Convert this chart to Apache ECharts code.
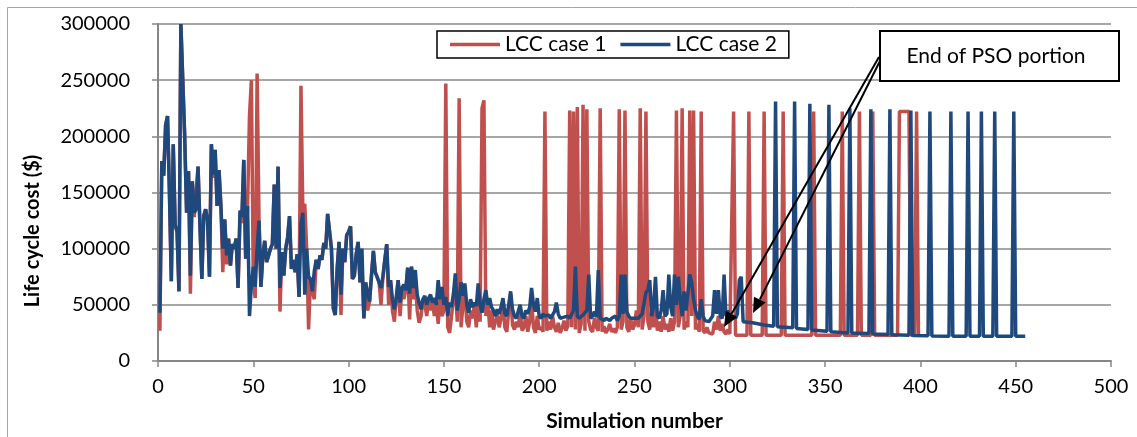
<!DOCTYPE html>
<html>
<head>
<meta charset="utf-8">
<script src="https://cdn.jsdelivr.net/npm/echarts/dist/echarts.min.js"></script>
<style>
  html, body { margin: 0; padding: 0; background: #fff; }
  #chart { width: 1137px; height: 437px; }
</style>
</head>
<body>
<div id="chart"></div>
<script>
// simulation number, life cycle cost in thousands of $
var lcc1Early = [
  [1,27],[2,178],[3,165],[4,210],[5,218],[6,150],[7,71],[8,193],[9,121],[10,115],
  [11,62],[12,300],[13,300],[14,200],[15,132],[16,169],[17,60],[18,160],[19,128],[20,128],
  [21,173],[22,121],[23,73],[24,129],[25,135],[26,125],[27,75],[28,193],[29,163],[30,188],
  [31,138],[32,170],[33,138],[34,79],[35,126],[36,86],[37,109],[38,85],[39,104],[40,100],
  [41,109],[42,65],[43,125],[44,123],[45,179],[46,91],[47,138],[48,219],[49,250],[50,70],
  [51,56],[52,256],[53,125],[54,66],[55,94],[56,107],[57,88],[58,94],[59,100],[60,104],
  [61,157],[62,100],[63,173],[64,44],[65,97],[66,76],[67,100],[68,110],[69,129],[70,82],
  [71,90],[72,79],[73,95],[74,57],[75,245],[76,132],[77,140],[78,100],[79,28],[80,73],
  [81,62],[82,55],[83,90],[84,82],[85,94],[86,90],[87,105],[88,100],[89,131],[90,131],
  [91,100],[92,47],[93,41],[94,82],[95,106],[96,41],[97,100],[98,88],[99,112],[100,115],
  [101,120],[102,73],[103,76],[104,95],[105,106],[106,70],[107,85],[108,38],[109,65],[110,45],
  [111,53],[112,76],[113,98],[114,79],[115,75],[116,70],[117,50],[118,75],[119,90],[120,104],
  [121,50],[122,72],[123,45],[124,35],[125,56],[126,72],[127,40],[128,65],[129,55],[130,63],
  [131,83],[132,37],[133,84],[134,55],[135,70],[136,45],[137,34],[138,40],[139,55],[140,50],
  [141,40],[142,56],[143,45],[144,52],[145,40],[146,50],[147,33],[148,55],[149,40]
];
var lcc1Mid = [
  [150,45],[151,247],[152,30],[153,25],[154,40],[155,55],[156,70],[157,35],[158,234],[159,30],
  [160,50],[161,62],[162,35],[163,30],[164,45],[165,38],[166,50],[167,30],[168,60],[169,35],
  [170,225],[171,232],[172,40],[173,55],[174,30],[175,45],[176,28],[177,35],[178,42],[179,30],
  [180,38],[181,50],[182,30],[183,26],[184,45],[185,60],[186,32],[187,28],[188,35],[189,30],
  [190,45],[191,27],[192,30],[193,40],[194,26],[195,35],[196,55],[197,30],[198,25],[199,40],
  [200,28],[201,30],[202,26],[203,222],[204,27],[205,35],[206,28],[207,40],[208,30],[209,26],
  [210,34],[211,25],[212,29],[213,36],[214,27],[215,31],[216,223],[217,30],[218,222],[219,28],
  [220,226],[221,25],[222,33],[223,228],[224,27],[225,224],[226,35],[227,28],[228,26],[229,38],
  [230,30],[231,27],[232,225],[233,26],[234,31],[235,25],[236,28],[237,33],[238,26],[239,29],
  [240,25],[241,30],[242,224],[243,28],[244,35],[245,223],[246,30],[247,26],[248,38],[249,28],
  [250,32],[251,45],[252,30],[253,225],[254,28],[255,40],[256,222],[257,35],[258,28],[259,45],
  [260,30],[261,50],[262,27],[263,35],[264,26],[265,40],[266,28],[267,33],[268,26],[269,38],
  [270,27],[271,35],[272,223],[273,30],[274,40],[275,225],[276,28],[277,35],[278,30],[279,223],
  [280,40],[281,223],[282,28],[283,33],[284,26],[285,222],[286,27],[287,25],[288,30],[289,25],
  [290,26],[291,24],[292,35],[293,28],[294,40],[295,27],[296,33],[297,26],[298,24],[299,28]
];
var lcc1Late = [
  [300,24],[301,23],[302,222],[303,23],[309,23],[310,222],[311,23],[317,23],[318,222],[319,23],
  [327,23],[328,222],[329,23],[343,23],[344,222],[345,23],[358,23],[359,222],[360,23],[367,23],
  [368,222],[369,23],[374,23],[375,222],[376,23],[388,23],[389,222],[394,222],[395,23],[397,23],
  [398,222],[399,23],[400,23]
];

var lcc2Early = [
  [1,43],[2,178],[3,165],[4,210],[5,218],[6,150],[7,71],[8,193],[9,121],[10,115],
  [11,62],[12,300],[13,300],[14,200],[15,132],[16,169],[17,76],[18,160],[19,132],[20,135],
  [21,173],[22,121],[23,73],[24,129],[25,135],[26,125],[27,75],[28,193],[29,166],[30,188],
  [31,138],[32,170],[33,138],[34,100],[35,126],[36,94],[37,109],[38,85],[39,104],[40,100],
  [41,109],[42,65],[43,134],[44,128],[45,179],[46,91],[47,138],[48,40],[49,68],[50,84],
  [51,66],[52,100],[53,125],[54,66],[55,94],[56,107],[57,88],[58,94],[59,100],[60,104],
  [61,157],[62,100],[63,173],[64,65],[65,97],[66,76],[67,100],[68,110],[69,129],[70,82],
  [71,90],[72,79],[73,95],[74,57],[75,122],[76,132],[77,59],[78,100],[79,75],[80,73],
  [81,62],[82,80],[83,90],[84,82],[85,94],[86,90],[87,105],[88,100],[89,131],[90,131],
  [91,100],[92,47],[93,41],[94,82],[95,106],[96,59],[97,100],[98,88],[99,112],[100,115],
  [101,120],[102,73],[103,76],[104,95],[105,106],[106,70],[107,100],[108,38],[109,70],[110,60],
  [111,53],[112,76],[113,98],[114,79],[115,80],[116,70],[117,65],[118,75],[119,90],[120,104],
  [121,66],[122,72],[123,55],[124,46],[125,56],[126,72],[127,52],[128,65],[129,68],[130,63],
  [131,83],[132,60],[133,84],[134,65],[135,81],[136,59],[137,52],[138,46],[139,55],[140,58],
  [141,50],[142,56],[143,59],[144,52],[145,56],[146,50],[147,72],[148,55],[149,66]
];
var lcc2Mid = [
  [150,50],[151,57],[152,40],[153,52],[154,48],[155,60],[156,78],[157,45],[158,55],[159,70],
  [160,58],[161,69],[162,50],[163,43],[164,55],[165,48],[166,52],[167,49],[168,69],[169,50],
  [170,43],[171,55],[172,63],[173,50],[174,56],[175,48],[176,45],[177,40],[178,46],[179,42],
  [180,48],[181,56],[182,42],[183,40],[184,50],[185,62],[186,46],[187,40],[188,38],[189,44],
  [190,50],[191,40],[192,38],[193,45],[194,42],[195,48],[196,65],[197,50],[198,44],[199,56],
  [200,40],[201,38],[202,42],[203,40],[204,39],[205,41],[206,38],[207,37],[208,44],[209,52],
  [210,42],[211,38],[212,37],[213,39],[214,38],[215,40],[216,38],[217,39],[218,45],[219,84],
  [220,40],[221,38],[222,39],[223,41],[224,40],[225,45],[226,77],[227,38],[228,40],[229,44],
  [230,39],[231,81],[232,38],[233,37],[234,36],[235,38],[236,37],[237,36],[238,38],[239,39],
  [240,40],[241,36],[242,40],[243,77],[244,42],[245,77],[246,44],[247,40],[248,38],[249,37],
  [250,38],[251,39],[252,38],[253,40],[254,42],[255,42],[256,61],[257,63],[258,72],[259,40],
  [260,48],[261,75],[262,40],[263,38],[264,45],[265,63],[266,40],[267,42],[268,77],[269,48],
  [270,40],[271,77],[272,50],[273,75],[274,55],[275,40],[276,62],[277,45],[278,60],[279,77],
  [280,70],[281,55],[282,45],[283,40],[284,37],[285,55],[286,40],[287,36],[288,35],[289,35],
  [290,36],[291,40],[292,63],[293,42],[294,63],[295,40],[296,38],[297,77],[298,40],[299,45]
];
var lcc2Late = [
  [300,38],[301,37],[302,40],[303,38],[304,42],[305,72],[306,75],[307,35],[308,34],[312,34],
  [318,32],[323,31],[324,231],[325,30.5],[333,29.5],[334,231],[335,29],[341,28],[342,229],[343,27.5],
  [351,26.5],[352,228],[353,26],[362,25],[363,225],[364,25],[373,24.5],[374,224],[375,24],[383,23.5],
  [384,224],[385,23.3],[394,23],[395,223],[396,22.8],[404,22.5],[405,222],[406,22.3],[415,22],[416,222],
  [417,22],[424,22],[425,222],[426,22],[431,22],[432,222],[433,22],[438,22],[439,222],[440,22],
  [448,22],[449,222],[450,22],[455,22]
];

var xTicks = { min: 0, max: 500, step: 50 };
var yTicks = { min: 0, max: 300000, step: 50000 };

var RED = '#C0504D';
var BLUE = '#1F497D';
var FONT = 'Lato, "Open Sans", sans-serif';

function toDollars(list) {
  return list.map(function (p) { return [p[0], p[1] * 1000]; });
}

function arrow(x1, y1, x2, y2) {
  var len = 15, w = 6.5;
  var dx = x2 - x1, dy = y2 - y1, d = Math.sqrt(dx * dx + dy * dy);
  var ux = dx / d, uy = dy / d;
  var bx = x2 - ux * len, by = y2 - uy * len;
  return [
    { type: 'line', shape: { x1: x1, y1: y1, x2: bx, y2: by }, style: { stroke: '#000', lineWidth: 2 }, z: 100 },
    { type: 'polygon', shape: { points: [[x2, y2], [bx - uy * w, by + ux * w], [bx + uy * w, by - ux * w]] }, style: { fill: '#000' }, z: 100 }
  ];
}

var chart = echarts.init(document.getElementById('chart'), null, { renderer: 'canvas' });

var graphics = [
  { type: 'rect', shape: { x: 7.5, y: 7.5, width: 1140, height: 440 }, style: { fill: 'none', stroke: '#a6a6a6', lineWidth: 1 }, silent: true },
  {
    type: 'text', x: 33, y: 231, rotation: Math.PI / 2,
    style: { text: 'Life cycle cost ($)', font: 'bold 20px ' + FONT, fill: '#000', textAlign: 'center', textVerticalAlign: 'middle' }
  },
  {
    type: 'rect', shape: { x: 880, y: 31, width: 239, height: 50 },
    style: { fill: '#fff', stroke: '#000', lineWidth: 2 }, z: 100
  },
  {
    type: 'text', x: 996, y: 56, z: 101,
    style: { text: 'End of PSO portion', font: '21px ' + FONT, fill: '#000', textAlign: 'center', textVerticalAlign: 'middle' }
  }
].concat(arrow(879, 57, 724, 327), arrow(880, 61, 753, 313));

chart.setOption({
  animation: false,
  backgroundColor: '#fff',
  grid: { left: 158, right: 26, top: 24, bottom: 73 },
  legend: {
    left: 437, top: 31,
    padding: [3, 12, 3, 13],
    icon: 'rect',
    itemWidth: 50, itemHeight: 3.5, itemGap: 14,
    borderColor: '#000', borderWidth: 1.5,
    backgroundColor: '#fff',
    textStyle: { fontFamily: FONT, fontSize: 21, color: '#000' },
    data: ['LCC case 1', 'LCC case 2']
  },
  xAxis: {
    type: 'value',
    min: xTicks.min, max: xTicks.max, interval: xTicks.step,
    name: 'Simulation number',
    nameLocation: 'middle',
    nameGap: 50,
    nameTextStyle: { fontFamily: FONT, fontSize: 21, fontWeight: 'bold', color: '#000' },
    axisLine: { onZero: false, lineStyle: { color: '#868686', width: 2 } },
    axisTick: { show: true, inside: false, length: 6, lineStyle: { color: '#868686', width: 1.5 } },
    axisLabel: { fontFamily: FONT, fontSize: 20, color: '#000', margin: 16 },
    splitLine: { show: false }
  },
  yAxis: {
    type: 'value',
    min: yTicks.min, max: yTicks.max, interval: yTicks.step,
    axisLine: { show: true, lineStyle: { color: '#868686', width: 2 } },
    axisTick: { show: true, inside: false, length: 6, lineStyle: { color: '#868686', width: 1.5 } },
    axisLabel: { fontFamily: FONT, fontSize: 20, color: '#000', margin: 28, formatter: function (v) { return String(v); } },
    splitLine: { show: true, lineStyle: { color: '#8a8a8a', width: 1.5 } }
  },
  series: [
    {
      name: 'LCC case 1',
      type: 'line',
      symbol: 'none',
      clip: true,
      color: RED,
      lineStyle: { color: RED, width: 3.5 },
      data: toDollars(lcc1Early.concat(lcc1Mid, lcc1Late))
    },
    {
      name: 'LCC case 2',
      type: 'line',
      symbol: 'none',
      clip: true,
      color: BLUE,
      lineStyle: { color: BLUE, width: 3.5 },
      data: toDollars(lcc2Early.concat(lcc2Mid, lcc2Late))
    }
  ],
  graphic: graphics
});
</script>
</body>
</html>
